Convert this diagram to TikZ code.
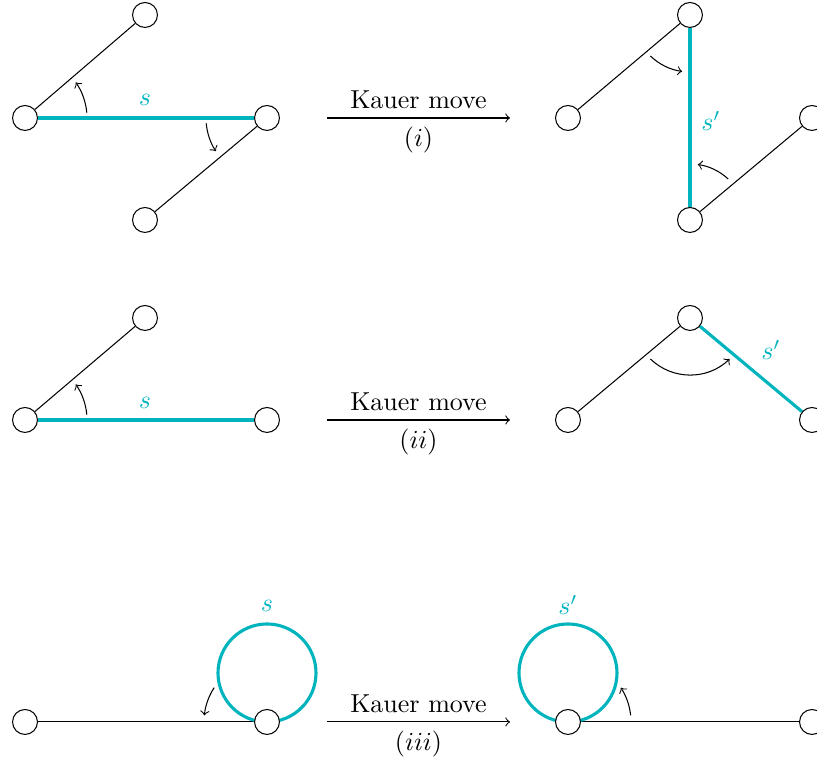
\documentclass[tikz,border=0pt]{standalone}
\usetikzlibrary{calc,backgrounds}
\definecolor{kcyan}{RGB}{0,180,190}
\begin{document}
\begin{tikzpicture}[x=0.385pt,y=0.385pt,
  vtx/.style={circle,draw,fill=white,minimum size=9.6pt,inner sep=0pt},
  plain/.style={line width=0.4pt},
  sedge/.style={draw=kcyan,line width=1.2pt},
  slab/.style={text=kcyan},
  turn/.style={->,line width=0.4pt},
  move/.style={->,line width=0.4pt}]
\useasboundingbox (0,0) rectangle (817,763);
% ---------- row 1 ----------
\node[vtx] (a1) at (25,645) {};
\node[vtx] (b1) at (145,748) {};
\node[vtx] (c1) at (145,543) {};
\node[vtx] (d1) at (267,645) {};
\node[vtx] (e1) at (568,645) {};
\node[vtx] (f1) at (690,748) {};
\node[vtx] (g1) at (690,543) {};
\node[vtx] (h1) at (812,645) {};
\begin{scope}[on background layer]
\draw[plain] (a1) -- (b1);
\draw[sedge] (a1) -- (d1);
\draw[plain] (d1) -- (c1);
\draw[plain] (e1) -- (f1);
\draw[sedge] (f1) -- (g1);
\draw[plain] (g1) -- (h1);
\end{scope}
\node[slab] (s1) at (145,663) {$s$};
\node[slab] (t1) at (711,642) {$s'$};
\draw[turn] ($(a1)+(5:62)$) arc[start angle=5,end angle=35,radius=62];
\draw[turn] ($(d1)+(185:61)$) arc[start angle=185,end angle=213,radius=61];
\draw[turn] ($(f1)+(226:57)$) arc[start angle=226,end angle=262,radius=57];
\draw[turn] ($(g1)+(47:56)$) arc[start angle=47,end angle=82,radius=56];
\coordinate (m1s) at (327,645);
\coordinate (m1e) at (510,645);
\draw[move] (m1s) -- (m1e) node[midway,above] {Kauer move} node[midway,below] {$(i)$};
% ---------- row 2 ----------
\node[vtx] (a2) at (25,343) {};
\node[vtx] (b2) at (145,445) {};
\node[vtx] (d2) at (267,343) {};
\node[vtx] (e2) at (568,343) {};
\node[vtx] (f2) at (690,445) {};
\node[vtx] (h2) at (812,343) {};
\begin{scope}[on background layer]
\draw[plain] (a2) -- (b2);
\draw[sedge] (a2) -- (d2);
\draw[plain] (e2) -- (f2);
\draw[sedge] (f2) -- (h2);
\end{scope}
\node[slab] (s2) at (145,360) {$s$};
\node[slab] (t2) at (771,413) {$s'$};
\draw[turn] ($(a2)+(5:62)$) arc[start angle=5,end angle=35,radius=62];
\draw[turn] ($(f2)+(226:57)$) arc[start angle=226,end angle=314,radius=57];
\coordinate (m2s) at (327,343);
\coordinate (m2e) at (510,343);
\draw[move] (m2s) -- (m2e) node[midway,above] {Kauer move} node[midway,below] {$(ii)$};
% ---------- row 3 ----------
\node[vtx] (a3) at (25,41) {};
\node[vtx] (d3) at (267,41) {};
\node[vtx] (e3) at (568,41) {};
\node[vtx] (h3) at (812,41) {};
\begin{scope}[on background layer]
\draw[plain] (a3) -- (d3);
\draw[sedge] ($(d3)+(0,49)$) circle[radius=49];
\draw[plain] (e3) -- (h3);
\draw[sedge] ($(e3)+(0,49)$) circle[radius=49];
\end{scope}
\node[slab] (s3) at (267,157) {$s$};
\node[slab] (t3) at (568,158) {$s'$};
\draw[turn] ($(d3)+(147:63)$) arc[start angle=147,end angle=174,radius=63];
\draw[turn] ($(e3)+(6:63)$) arc[start angle=6,end angle=33,radius=63];
\coordinate (m3s) at (327,41);
\coordinate (m3e) at (510,41);
\draw[move] (m3s) -- (m3e) node[midway,above] {Kauer move} node[midway,below] {$(iii)$};
\end{tikzpicture}
\end{document}
